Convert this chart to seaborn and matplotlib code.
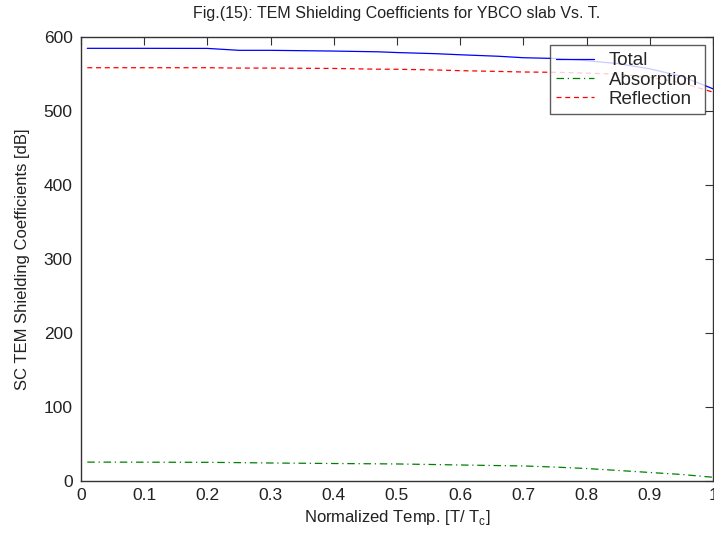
import matplotlib
matplotlib.use("Agg")
import matplotlib.pyplot as plt
import seaborn as sns
import pandas as pd

# Normalized temperature T/Tc and shielding coefficients in dB
temp = [0.01, 0.10, 0.20, 0.25, 0.30, 0.40, 0.47, 0.50, 0.56, 0.60, 0.66, 0.70,
        0.75, 0.80, 0.85, 0.90, 0.95, 1.00]
total = [584.7, 584.7, 584.6, 582.0, 582.0, 581.0, 580.0, 579.0, 577.5, 576.0, 574.0,
         572.0, 571.0, 568.0, 564.0, 557.0, 547.0, 530.0]
absorption = [25.5, 25.4, 25.2, 24.8, 24.3, 23.6, 23.2, 23.0, 22.2, 21.6, 20.8,
              20.3, 18.8, 16.8, 14.2, 11.5, 8.8, 5.0]
reflection = [558.5, 558.5, 558.5, 558.0, 558.0, 557.5, 556.5, 556.4, 555.5, 554.5,
              553.5, 552.7, 552.3, 551.2, 549.8, 545.5, 538.2, 525.5]

series = ["Total", "Absorption", "Reflection"]
colors = {"Total": "#0000ff", "Absorption": "#008000", "Reflection": "#ff0000"}
styles = {"Total": "-", "Absorption": (0, (6, 3, 1, 3)), "Reflection": (0, (4, 3))}

df = pd.DataFrame({"T": temp, "Total": total, "Absorption": absorption,
                   "Reflection": reflection})
long = df.melt(id_vars="T", var_name="series", value_name="dB")

sns.set_style("white")
plt.rcParams["font.family"] = ["Liberation Sans", "DejaVu Sans"]

fig = plt.figure(figsize=(7.14, 5.34), dpi=100)
ax = fig.add_axes([0.1134, 0.0993, 0.8852, 0.8314])

for name in series:
    sub = long[long["series"] == name]
    sns.lineplot(data=sub, x="T", y="dB", ax=ax, color=colors[name],
                 linestyle=styles[name], linewidth=0.9, label=name)

ax.set_xlim(0, 1)
ax.set_ylim(0, 600)
ax.set_xticks([0, 0.1, 0.2, 0.3, 0.4, 0.5, 0.6, 0.7, 0.8, 0.9, 1])
ax.set_xticklabels(["0", "0.1", "0.2", "0.3", "0.4", "0.5", "0.6", "0.7", "0.8", "0.9", "1"])
ax.set_yticks([0, 100, 200, 300, 400, 500, 600])
ax.tick_params(direction="in", top=True, right=True, length=6, width=0.8,
               labelsize=12.5, colors="#333333", labelcolor="#222222")
ax.tick_params(axis="y", pad=6)
ax.tick_params(axis="x", pad=5)
for sp in ax.spines.values():
    sp.set_visible(True)
    sp.set_color("#333333")
    sp.set_linewidth(1.0)

ax.set_xlabel("Normalized Temp. [T/ T$_\\mathregular{c}$]", fontsize=12, color="#222222",
              labelpad=4)
ax.set_ylabel("SC TEM Shielding Coefficients [dB]", fontsize=12, color="#222222",
              labelpad=10)
ax.set_title("Fig.(15): TEM Shielding Coefficients for YBCO slab Vs. T.",
             fontsize=11.5, color="#222222", pad=14)

leg = ax.legend(loc="upper right", fontsize=13.5, frameon=True, fancybox=False,
                borderaxespad=0.45, handlelength=2.0, handletextpad=0.8,
                labelspacing=0.12, borderpad=0.35)
leg.get_frame().set_edgecolor("#333333")
leg.get_frame().set_linewidth(1.0)

fig.savefig("out.png", dpi=100, facecolor="white")
